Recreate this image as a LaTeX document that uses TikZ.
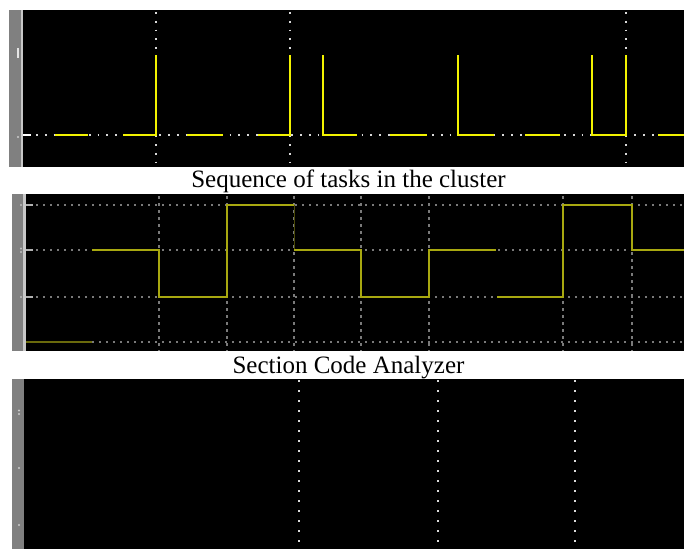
\documentclass[tikz,border=0pt]{standalone}
\usepackage{fontspec}
\setmainfont{Liberation Serif}
\definecolor{scopeyel}{HTML}{F2F200}
\definecolor{olive}{HTML}{A8A810}
\definecolor{dimolive}{HTML}{4A4A08}
\definecolor{lowolive}{HTML}{6A6A0C}
\definecolor{strip}{HTML}{808080}
\definecolor{stripline}{HTML}{C8C8C8}
\definecolor{griddot}{HTML}{7A7A7A}
\tikzset{
  screen/.style={fill=black, draw=none},
  stripbox/.style={fill=strip, draw=none},
  wdots/.style={draw=white!85!black, line width=1.8pt, dash pattern=on 1.8pt off 7pt},
  gdots/.style={draw=griddot, line width=1.4pt, dash pattern=on 1.6pt off 5.4pt},
  gdash/.style={draw=griddot, line width=1.4pt, dash pattern=on 3pt off 4pt},
  pulse/.style={draw=scopeyel, line width=2pt},
  wave/.style={draw=olive, line width=1.6pt},
  dimwave/.style={draw=dimolive, line width=1pt},
  lowwave/.style={draw=lowolive, line width=1.4pt},
  caption/.style={font=\fontsize{25}{28}\selectfont, inner sep=0pt, anchor=base}
}
\begin{document}
\begin{tikzpicture}[x=1pt,y=-1pt]
\useasboundingbox[fill=white] (0,0) rectangle (684,549);
% ---------- panel 1 ----------
\fill[stripbox] (9,10) rectangle (21,167);
\fill[stripline] (21,10) rectangle (23,167);
\fill[screen] (23,10) rectangle (684,167);
\fill[white!90!black] (16.5,48) rectangle (19.3,58);
\fill[white!80!black] (18,137) circle (1.2);
\draw[white, line width=2pt] (23,135) -- (31,135);
\draw[wdots] (36,135) -- (684,135);
\foreach \x in {156,290,626} \draw[wdots] (\x,12) -- (\x,167);
\draw[pulse] (55,135) -- (88,135);
\draw[pulse] (123,135) -- (156,135) -- (156,55);
\draw[pulse] (187,135) -- (223,135);
\draw[pulse] (258,135) -- (290,135) -- (290,55);
\draw[pulse] (323,55) -- (323,135) -- (357,135);
\draw[pulse] (390,135) -- (427,135);
\draw[pulse] (458,55) -- (458,135) -- (494,135);
\draw[pulse] (525,135) -- (560,135);
\draw[pulse] (592,55) -- (592,135) -- (626,135) -- (626,55);
\draw[pulse] (658,135) -- (684,135);
\node[caption] (cap1) at (348.5,187) {Sequence of tasks in the cluster};
% ---------- panel 2 ----------
\fill[stripbox] (12,194) rectangle (23,351);
\fill[stripline] (23,194) rectangle (26,351);
\fill[screen] (26,194) rectangle (684,351);
\foreach \y in {205,297} \fill[white!75!black] (21,\y) circle (1.1);
\fill[white!75!black] (21,248.5) circle (1.1);
\fill[white!75!black] (21,252) circle (1.1);
\foreach \y in {205,250,297} \draw[white!70!black, line width=1.5pt] (26,\y) -- (33,\y);
\foreach \y in {205,250,297,342} \draw[gdots] (36,\y) -- (684,\y);
\foreach \x in {159,227,294,361,429,563,632} \draw[gdash] (\x,196) -- (\x,351);
\draw[lowwave] (26,342) -- (92,342);
\draw[wave] (92,250) -- (159,250) -- (159,297) -- (227,297) -- (227,205) -- (294,205);
\draw[dimwave] (294,205) -- (294,250);
\draw[wave] (294,250) -- (361,250) -- (361,297) -- (429,297) -- (429,250) -- (496,250);
\draw[wave] (497,297) -- (563,297) -- (563,205) -- (632,205) -- (632,250) -- (684,250);
\node[caption] (cap2) at (348.5,373) {Section Code Analyzer};
% ---------- panel 3 ----------
\fill[stripbox] (12,379) rectangle (24,549);
\fill[screen] (24,379) rectangle (684,549);
\fill[white!80!black] (19,410.5) circle (1.1);
\fill[white!80!black] (19,414) circle (1.1);
\fill[white!80!black] (19,468) circle (1.1);
\fill[white!80!black] (19,525) circle (1.1);
\foreach \x in {299,438,575} \draw[wdots, line width=1.5pt, dash pattern=on 1.5pt off 8.5pt] (\x,380) -- (\x,549);
\end{tikzpicture}
\end{document}
